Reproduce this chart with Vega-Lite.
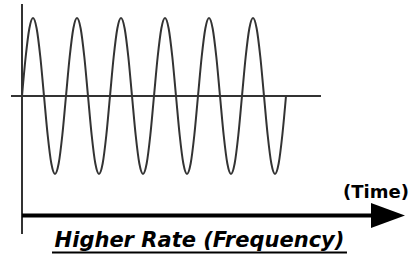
{
  "$schema": "https://vega.github.io/schema/vega-lite/v6.json",
  "width": 414,
  "height": 265,
  "padding": 0,
  "autosize": {"type": "fit", "contains": "padding"},
  "background": "white",
  "config": {"view": {"stroke": null}},
  "datasets": {
    "wave": [
      {"t": 0, "a": 0}, {"t": 0.0833, "a": 0.5}, {"t": 0.1667, "a": 0.866}, {"t": 0.25, "a": 1}, {"t": 0.3333, "a": 0.866}, {"t": 0.4167, "a": 0.5},
      {"t": 0.5, "a": 0}, {"t": 0.5833, "a": -0.5}, {"t": 0.6667, "a": -0.866}, {"t": 0.75, "a": -1}, {"t": 0.8333, "a": -0.866}, {"t": 0.9167, "a": -0.5},
      {"t": 1, "a": 0}, {"t": 1.0833, "a": 0.5}, {"t": 1.1667, "a": 0.866}, {"t": 1.25, "a": 1}, {"t": 1.3333, "a": 0.866}, {"t": 1.4167, "a": 0.5},
      {"t": 1.5, "a": 0}, {"t": 1.5833, "a": -0.5}, {"t": 1.6667, "a": -0.866}, {"t": 1.75, "a": -1}, {"t": 1.8333, "a": -0.866}, {"t": 1.9167, "a": -0.5},
      {"t": 2, "a": 0}, {"t": 2.0833, "a": 0.5}, {"t": 2.1667, "a": 0.866}, {"t": 2.25, "a": 1}, {"t": 2.3333, "a": 0.866}, {"t": 2.4167, "a": 0.5},
      {"t": 2.5, "a": 0}, {"t": 2.5833, "a": -0.5}, {"t": 2.6667, "a": -0.866}, {"t": 2.75, "a": -1}, {"t": 2.8333, "a": -0.866}, {"t": 2.9167, "a": -0.5},
      {"t": 3, "a": 0}, {"t": 3.0833, "a": 0.5}, {"t": 3.1667, "a": 0.866}, {"t": 3.25, "a": 1}, {"t": 3.3333, "a": 0.866}, {"t": 3.4167, "a": 0.5},
      {"t": 3.5, "a": 0}, {"t": 3.5833, "a": -0.5}, {"t": 3.6667, "a": -0.866}, {"t": 3.75, "a": -1}, {"t": 3.8333, "a": -0.866}, {"t": 3.9167, "a": -0.5},
      {"t": 4, "a": 0}, {"t": 4.0833, "a": 0.5}, {"t": 4.1667, "a": 0.866}, {"t": 4.25, "a": 1}, {"t": 4.3333, "a": 0.866}, {"t": 4.4167, "a": 0.5},
      {"t": 4.5, "a": 0}, {"t": 4.5833, "a": -0.5}, {"t": 4.6667, "a": -0.866}, {"t": 4.75, "a": -1}, {"t": 4.8333, "a": -0.866}, {"t": 4.9167, "a": -0.5},
      {"t": 5, "a": 0}, {"t": 5.0833, "a": 0.5}, {"t": 5.1667, "a": 0.866}, {"t": 5.25, "a": 1}, {"t": 5.3333, "a": 0.866}, {"t": 5.4167, "a": 0.5},
      {"t": 5.5, "a": 0}, {"t": 5.5833, "a": -0.5}, {"t": 5.6667, "a": -0.866}, {"t": 5.75, "a": -1}, {"t": 5.8333, "a": -0.866}, {"t": 5.9167, "a": -0.5},
      {"t": 6, "a": 0}
    ],
    "vaxis": [{"t": 0, "a": 1.1795, "a2": -1.7692}],
    "hline": [{"t": -0.25, "t2": 6.795, "a": 0}],
    "shaft": [{"t": 0, "t2": 7.95, "a": -1.532}],
    "head": [{"t": 8.318, "a": -1.532}],
    "timelabel": [{"t": 8.045, "a": -1.3077, "label": "(Time)"}],
    "title": [{"t": 4.034, "a": -1.936, "label": "Higher Rate (Frequency)"}],
    "underline": [{"t": 0.682, "t2": 7.386, "a": -2.0064}]
  },
  "layer": [
    {
      "data": {"name": "vaxis"},
      "mark": {"type": "rule", "color": "#333333", "strokeWidth": 2},
      "encoding": {
        "x": {"field": "t", "type": "quantitative", "scale": {"domain": [-0.5, 8.9091], "nice": false, "zero": false}, "axis": null},
        "y": {"field": "a", "type": "quantitative", "scale": {"domain": [-2.1667, 1.2308], "nice": false, "zero": false}, "axis": null},
        "y2": {"field": "a2"}
      }
    },
    {
      "data": {"name": "hline"},
      "mark": {"type": "rule", "color": "#333333", "strokeWidth": 2},
      "encoding": {
        "x": {"field": "t", "type": "quantitative", "scale": {"domain": [-0.5, 8.9091], "nice": false, "zero": false}, "axis": null},
        "x2": {"field": "t2"},
        "y": {"field": "a", "type": "quantitative", "scale": {"domain": [-2.1667, 1.2308], "nice": false, "zero": false}, "axis": null}
      }
    },
    {
      "data": {"name": "wave"},
      "mark": {"type": "line", "color": "#333333", "strokeWidth": 2, "interpolate": "monotone"},
      "encoding": {
        "x": {"field": "t", "type": "quantitative", "scale": {"domain": [-0.5, 8.9091], "nice": false, "zero": false}, "axis": null},
        "y": {"field": "a", "type": "quantitative", "scale": {"domain": [-2.1667, 1.2308], "nice": false, "zero": false}, "axis": null}
      }
    },
    {
      "data": {"name": "shaft"},
      "mark": {"type": "rule", "color": "#000000", "strokeWidth": 4},
      "encoding": {
        "x": {"field": "t", "type": "quantitative", "scale": {"domain": [-0.5, 8.9091], "nice": false, "zero": false}, "axis": null},
        "x2": {"field": "t2"},
        "y": {"field": "a", "type": "quantitative", "scale": {"domain": [-2.1667, 1.2308], "nice": false, "zero": false}, "axis": null}
      }
    },
    {
      "data": {"name": "head"},
      "mark": {"type": "point", "shape": "M-1,-0.735L1,0L-1,0.735Z", "filled": true, "color": "#000000", "opacity": 1, "size": 1156, "strokeWidth": 0},
      "encoding": {
        "x": {"field": "t", "type": "quantitative", "scale": {"domain": [-0.5, 8.9091], "nice": false, "zero": false}, "axis": null},
        "y": {"field": "a", "type": "quantitative", "scale": {"domain": [-2.1667, 1.2308], "nice": false, "zero": false}, "axis": null}
      }
    },
    {
      "data": {"name": "timelabel"},
      "mark": {"type": "text", "font": "DejaVu Sans", "fontWeight": "bold", "fontSize": 18, "align": "center", "baseline": "alphabetic", "color": "#000000"},
      "encoding": {
        "x": {"field": "t", "type": "quantitative", "scale": {"domain": [-0.5, 8.9091], "nice": false, "zero": false}, "axis": null},
        "y": {"field": "a", "type": "quantitative", "scale": {"domain": [-2.1667, 1.2308], "nice": false, "zero": false}, "axis": null},
        "text": {"field": "label"}
      }
    },
    {
      "data": {"name": "title"},
      "mark": {"type": "text", "font": "DejaVu Sans", "fontWeight": "bold", "fontStyle": "italic", "fontSize": 21, "align": "center", "baseline": "alphabetic", "color": "#000000"},
      "encoding": {
        "x": {"field": "t", "type": "quantitative", "scale": {"domain": [-0.5, 8.9091], "nice": false, "zero": false}, "axis": null},
        "y": {"field": "a", "type": "quantitative", "scale": {"domain": [-2.1667, 1.2308], "nice": false, "zero": false}, "axis": null},
        "text": {"field": "label"}
      }
    },
    {
      "data": {"name": "underline"},
      "mark": {"type": "rule", "color": "#000000", "strokeWidth": 2},
      "encoding": {
        "x": {"field": "t", "type": "quantitative", "scale": {"domain": [-0.5, 8.9091], "nice": false, "zero": false}, "axis": null},
        "x2": {"field": "t2"},
        "y": {"field": "a", "type": "quantitative", "scale": {"domain": [-2.1667, 1.2308], "nice": false, "zero": false}, "axis": null}
      }
    }
  ]
}
